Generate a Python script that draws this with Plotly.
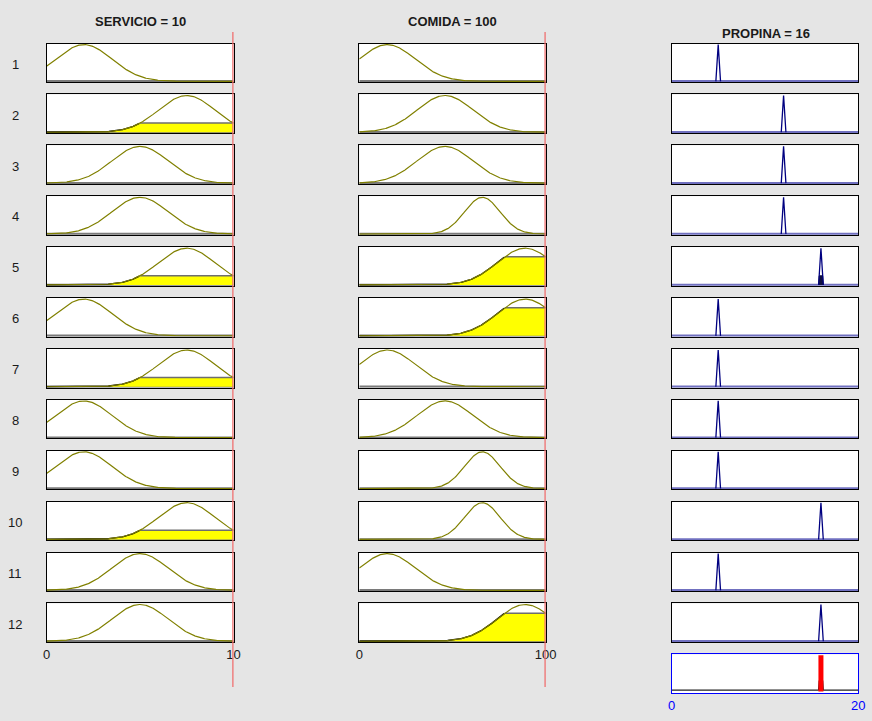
import numpy as np
import plotly.graph_objects as go

# ---------------- data ----------------
servicio_value = 10
comida_value = 100
propina_value = 16

servicio_range = [0, 10]
comida_range = [0, 100]
propina_range = [0, 20]

# gaussian membership functions: centers and sigmas
servicio_centers = [2, 5, 7.5]
servicio_sigmas = [1.5, 1.5, 1.5]
comida_centers = [15, 46, 66, 89]
comida_sigmas = [15, 15, 9.5, 15]
# output: narrow triangles (center, half width)
propina_centers = [5, 12, 16]
propina_halfwidth = [0.25, 0.25, 0.25]

# rules: antecedent MF index for servicio, comida and consequent for propina
rule_servicio = [0, 2, 1, 1, 2, 0, 2, 0, 0, 2, 1, 1]
rule_comida = [0, 1, 1, 2, 3, 3, 0, 1, 2, 2, 0, 3]
rule_propina = [0, 1, 1, 1, 2, 0, 0, 0, 0, 2, 0, 2]
row_labels = [str(i + 1) for i in range(12)]

servicio_ticks = [0, 10]
comida_ticks = [0, 100]
propina_ticks = [0, 20]

# ---------------- geometry (pixels) ----------------
W, H = 872, 721
col_px = [(46.5, 233.5), (359.3, 545.7), (671.5, 858.3)]
row_top0 = 43.5
row_step = 50.9
row_h = 38.6
agg_px = (654.3, 693.3)

def px_x(a, b):
    return [a / W, b / W]

def px_y(top, bottom):
    return [1 - bottom / H, 1 - top / H]

def gauss(x, c, s):
    return np.exp(-((x - c) ** 2) / (2 * s ** 2))

fig = go.Figure()
layout = {}

OLIVE = "#808000"
NAVY = "#000080"

def axis_names(idx):
    sfx = "" if idx == 1 else str(idx)
    return "x" + sfx, "y" + sfx, "xaxis" + sfx, "yaxis" + sfx

n_rules = len(rule_servicio)
firings = []
for r in range(n_rules):
    ds = gauss(servicio_value, servicio_centers[rule_servicio[r]], servicio_sigmas[rule_servicio[r]])
    dc = gauss(comida_value, comida_centers[rule_comida[r]], comida_sigmas[rule_comida[r]])
    firings.append((ds, dc, min(ds, dc)))

inputs = [
    (servicio_range, servicio_centers, servicio_sigmas, rule_servicio, servicio_value, servicio_ticks),
    (comida_range, comida_centers, comida_sigmas, rule_comida, comida_value, comida_ticks),
]

for r in range(n_rules):
    top = row_top0 + r * row_step
    bottom = top + row_h
    for c in range(3):
        idx = r * 3 + c + 1
        xn, yn, xa, ya = axis_names(idx)
        last = (r == n_rules - 1) and c < 2
        if c < 2:
            rng, cents, sigs, rule, val, ticks = inputs[c]
        else:
            rng, ticks = propina_range, propina_ticks
        layout[xa] = dict(domain=px_x(*col_px[c]), range=rng, anchor=yn, automargin=False,
                          showgrid=False, zeroline=False, showline=True, mirror=True,
                          linecolor="black", linewidth=1, ticks="",
                          showticklabels=last, tickvals=ticks if last else None,
                          tickfont=dict(size=13, color="#1a1a1a"), fixedrange=True)
        layout[ya] = dict(domain=px_y(top, bottom), range=[-0.02, 1.03], anchor=xn,
                          automargin=False,
                          showgrid=False, zeroline=False, showline=True, mirror=True,
                          linecolor="black", linewidth=1, ticks="", showticklabels=False,
                          fixedrange=True)
        if c < 2:
            xs = np.linspace(rng[0], rng[1], 301)
            mf = gauss(xs, cents[rule[r]], sigs[rule[r]])
            level = firings[r][c]
            fig.add_trace(go.Scatter(x=[rng[0], rng[1]], y=[0, 0], mode="lines",
                                     line=dict(color="#7a7a7a", width=2.5), xaxis=xn, yaxis=yn,
                                     hoverinfo="skip"))
            if level > 0.01:
                mask = xs <= val
                xc = xs[mask]
                yc = np.minimum(mf[mask], level)
                fig.add_trace(go.Scatter(x=np.concatenate([[xc[0]], xc, [xc[-1]]]),
                                         y=np.concatenate([[0], yc, [0]]),
                                         mode="lines", fill="toself", fillcolor="#ffff00",
                                         line=dict(width=0), xaxis=xn, yaxis=yn, hoverinfo="skip"))
                fig.add_trace(go.Scatter(x=xc, y=np.where(mf[mask] >= level, level, np.nan),
                                         mode="lines", line=dict(color="#6e6e6e", width=1.5),
                                         xaxis=xn, yaxis=yn, hoverinfo="skip", connectgaps=False))
                fig.add_trace(go.Scatter(x=xc, y=np.where(mf[mask] < level, mf[mask], np.nan),
                                         mode="lines", line=dict(color="black", width=1.3),
                                         xaxis=xn, yaxis=yn, hoverinfo="skip", connectgaps=False))
            fig.add_trace(go.Scatter(x=xs, y=mf, mode="lines",
                                     line=dict(color=OLIVE, width=1.2), xaxis=xn, yaxis=yn,
                                     hoverinfo="skip"))
        else:
            pc = propina_centers[rule_propina[r]]
            hw = propina_halfwidth[rule_propina[r]]
            f = firings[r][2]
            fig.add_trace(go.Scatter(x=[propina_range[0], propina_range[1]], y=[0, 0], mode="lines",
                                     line=dict(color="#7070c0", width=2.5), xaxis=xn, yaxis=yn,
                                     hoverinfo="skip"))
            if f > 0.01:
                fig.add_trace(go.Scatter(x=[pc - hw, pc - hw + hw * f, pc + hw - hw * f, pc + hw],
                                         y=[0, f, f, 0], mode="lines", fill="toself",
                                         fillcolor="#101040", line=dict(color="#101040", width=1),
                                         xaxis=xn, yaxis=yn, hoverinfo="skip"))
            fig.add_trace(go.Scatter(x=[pc - hw, pc, pc + hw], y=[0, 1, 0], mode="lines",
                                     line=dict(color=NAVY, width=1.3), xaxis=xn, yaxis=yn,
                                     hoverinfo="skip"))

# aggregated output panel
idx = 37
xn, yn, xa, ya = axis_names(idx)
layout[xa] = dict(domain=px_x(*col_px[2]), range=propina_range, anchor=yn, automargin=False,
                  showgrid=False, zeroline=False, showline=True, mirror=True,
                  linecolor="#0000ff", linewidth=1, ticks="", tickvals=propina_ticks,
                  tickfont=dict(size=13, color="#0000ff"), fixedrange=True)
layout[ya] = dict(domain=px_y(*agg_px), range=[-0.09, 1.0], anchor=xn, automargin=False,
                  showgrid=False, zeroline=False, showline=True, mirror=True,
                  linecolor="#0000ff", linewidth=1, ticks="", showticklabels=False, fixedrange=True)
agg_x = [propina_range[0]]
agg_y = [0]
for r in range(n_rules):
    f = firings[r][2]
    if f > 0.01:
        pc = propina_centers[rule_propina[r]]
        hw = propina_halfwidth[rule_propina[r]]
        agg_x += [pc - hw, pc - hw + hw * f, pc + hw - hw * f, pc + hw]
        agg_y += [0, f, f, 0]
agg_x.append(propina_range[1])
agg_y.append(0)
fig.add_trace(go.Scatter(x=agg_x, y=agg_y, mode="lines", line=dict(color="#222222", width=1.3),
                         xaxis=xn, yaxis=yn, hoverinfo="skip"))
fig.add_trace(go.Scatter(x=[propina_value, propina_value], y=[-0.04, 0.97], mode="lines",
                         line=dict(color="#ff0000", width=5), xaxis=xn, yaxis=yn, hoverinfo="skip"))

# red input indicator lines
shapes = []
for c, val in [(0, servicio_value), (1, comida_value)]:
    xn_c = axis_names(c + 1)[0]
    shapes.append(dict(type="line", xref=xn_c, yref="paper", x0=val, x1=val,
                       y0=1 - 687 / H, y1=1 - 32 / H,
                       line=dict(color="#f06c6c", width=2.5), layer="above"))

annotations = []
titles = [("SERVICIO = %g" % servicio_value, 140, 22),
          ("COMIDA = %g" % comida_value, 452.5, 22),
          ("PROPINA = %g" % propina_value, 765.5, 34)]
for t, x, y in titles:
    annotations.append(dict(text="<b>%s</b>" % t, x=x / W, y=1 - y / H, xref="paper", yref="paper",
                            xanchor="center", yanchor="middle", showarrow=False,
                            font=dict(size=13, color="#1a1a1a")))
for r, lab in enumerate(row_labels):
    top = row_top0 + r * row_step
    annotations.append(dict(text=lab, x=15 / W, y=1 - (top + row_h / 2 + 1.5) / H,
                            xref="paper", yref="paper", xanchor="center", yanchor="middle",
                            showarrow=False, font=dict(size=13, color="#1a1a1a")))

fig.update_layout(
    width=W, height=H, margin=dict(l=0, r=0, t=0, b=0, pad=0),
    paper_bgcolor="#e5e5e5", plot_bgcolor="white", showlegend=False,
    font=dict(family="Liberation Sans, Arial, sans-serif", size=13, color="#1a1a1a"),
    shapes=shapes, annotations=annotations, **layout)

fig.write_html("out.html")
